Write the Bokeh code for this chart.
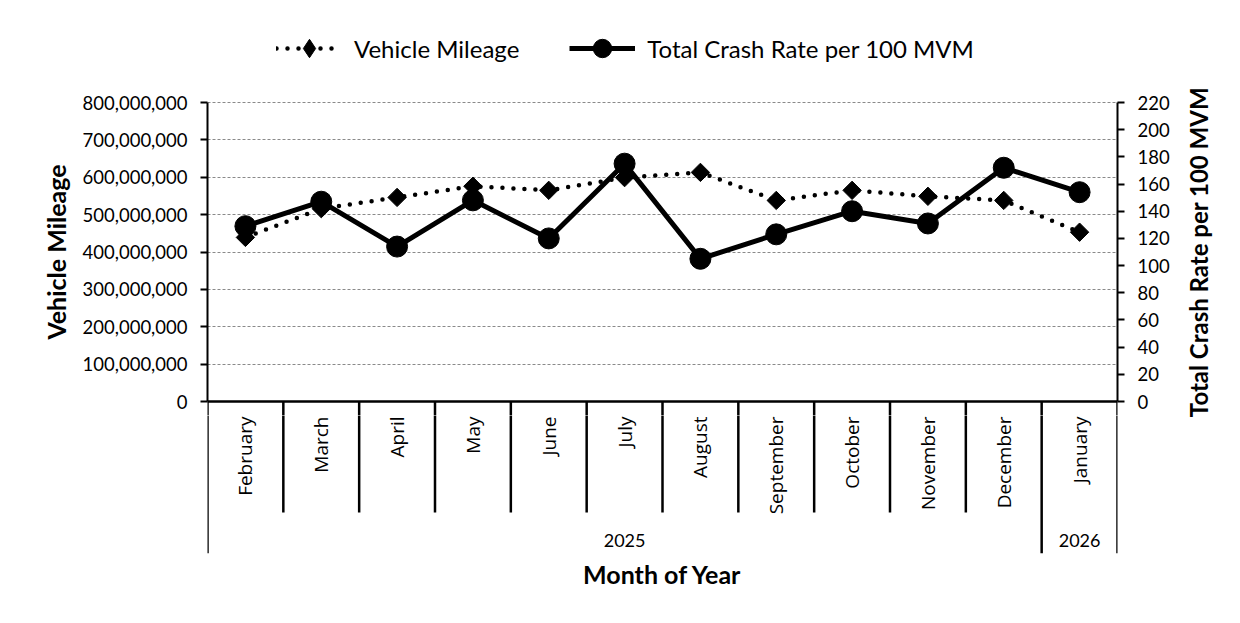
import math
from bokeh.plotting import figure
from bokeh.layouts import column, row
from bokeh.models import (Range1d, LinearAxis, FixedTicker, NumeralTickFormatter,
                          Legend, LegendItem, FactorRange, Title)
from bokeh.core.properties import value
from bokeh.embed import file_html
from bokeh.resources import INLINE

# ---------------- data ----------------
months = ["February", "March", "April", "May", "June", "July", "August",
          "September", "October", "November", "December", "January"]
years = ["2025"] * 11 + ["2026"]
vehicle_mileage = [439e6, 516e6, 546e6, 576e6, 565e6, 599e6, 613e6,
                   538e6, 565e6, 549e6, 538e6, 453e6]
crash_rate = [129, 147, 114, 148, 120, 175, 105, 123, 140, 131, 172, 154]
left_ticks = [0, 100e6, 200e6, 300e6, 400e6, 500e6, 600e6, 700e6, 800e6]
right_ticks = [0, 20, 40, 60, 80, 100, 120, 140, 160, 180, 200, 220]
LEFT_MAX, RIGHT_MAX = 800e6, 220

# ---------------- layout (page pixels) ----------------
W, H = 1240, 623
SIDE_W = 60                         # strip that carries the right-hand axis title
CW = W - SIDE_W                     # width of the chart column
FRAME_L, FRAME_R = 207, 1117
PLOT_T, PLOT_B = 102, 401           # value area (0 .. max)
MAIN_T, MAIN_B = 88, 415            # main frame, symmetric around the value area
TABLE_B = 553
MONTH_ROW_B = 512
FONT = "Lato"

def lv(py):
    """page y -> left-axis data units"""
    return (PLOT_B - py) * LEFT_MAX / (PLOT_B - PLOT_T)

def rv(py):
    return (PLOT_B - py) * RIGHT_MAX / (PLOT_B - PLOT_T)

x_range = FactorRange(factors=months, range_padding=0)

MILE_LINE = dict(line_color="black", line_width=4.5, line_dash="0 11", line_cap="round")
RATE_LINE = dict(line_color="black", line_width=5)
MARK = dict(fill_color="black", line_color="black")

# ---------------- legend strip (top) ----------------
t = figure(width=CW, height=MAIN_T, x_range=x_range, y_range=Range1d(0, LEFT_MAX),
           output_backend="svg", toolbar_location=None,
           min_border_left=FRAME_L, min_border_right=CW - FRAME_R,
           min_border_top=0, min_border_bottom=0)
t.extra_y_ranges = {"rate": Range1d(0, RIGHT_MAX)}
t.outline_line_color = None
t.axis.visible = False
t.grid.visible = False
kl1 = t.line(months, vehicle_mileage, visible=False, **MILE_LINE)
ks1 = t.scatter(months, vehicle_mileage, marker="diamond", size=20, visible=False, **MARK)
kl2 = t.line(months, crash_rate, y_range_name="rate", visible=False, **RATE_LINE)
ks2 = t.scatter(months, crash_rate, y_range_name="rate", marker="circle", size=21,
                visible=False, **MARK)
legend = Legend(items=[LegendItem(label="Vehicle Mileage", renderers=[kl1, ks1]),
                       LegendItem(label="Total Crash Rate per 100 MVM", renderers=[kl2, ks2])],
                orientation="horizontal", location=(276 - FRAME_L, MAIN_T - 71),
                border_line_color=None, background_fill_alpha=0,
                padding=0, margin=0, spacing=50, label_standoff=12,
                glyph_width=66, glyph_height=46,
                label_text_font=FONT, label_text_font_size="24px", label_text_color="black")
t.add_layout(legend)

# ---------------- main chart ----------------
p = figure(width=CW, height=MAIN_B - MAIN_T, x_range=x_range,
           y_range=Range1d(lv(MAIN_B), lv(MAIN_T)),
           output_backend="svg", toolbar_location=None,
           min_border_left=FRAME_L, min_border_right=CW - FRAME_R,
           min_border_top=0, min_border_bottom=0)
p.extra_y_ranges = {"rate": Range1d(rv(MAIN_B), rv(MAIN_T))}
p.outline_line_color = None
p.xaxis.visible = False
p.xgrid.visible = False
p.ygrid.ticker = FixedTicker(ticks=left_ticks)
p.ygrid.grid_line_color = "#8a8a8a"
p.ygrid.grid_line_dash = "3 2"
p.ygrid.grid_line_width = 1

ya = p.yaxis[0]
ya.ticker = FixedTicker(ticks=left_ticks)
ya.formatter = NumeralTickFormatter(format="0,0")
ya.bounds = (0, LEFT_MAX)
ya.axis_label = "Vehicle Mileage"

ra = LinearAxis(y_range_name="rate", ticker=FixedTicker(ticks=right_ticks),
                bounds=(0, RIGHT_MAX))
p.add_layout(ra, "right")

for ax in (ya, ra):
    ax.axis_line_color = "black"
    ax.axis_line_width = 2
    ax.major_tick_line_color = "black"
    ax.major_tick_line_width = 2
    ax.major_tick_in = 0
    ax.major_tick_out = 7
    ax.minor_tick_line_color = None
    ax.major_label_text_font = FONT
    ax.major_label_text_font_size = "18.5px"
    ax.major_label_text_color = "black"
    ax.major_label_standoff = 13
ya.axis_label_text_font = FONT
ya.axis_label_text_font_style = "bold"
ya.axis_label_text_color = "black"
ya.axis_label_text_font_size = "25px"
ya.axis_label_standoff = 9

p.line(months, vehicle_mileage, **MILE_LINE)
p.scatter(months, vehicle_mileage, marker="square", size=13, angle=math.pi / 4, **MARK)
p.line(months, crash_rate, y_range_name="rate", **RATE_LINE)
p.scatter(months, crash_rate, y_range_name="rate", marker="circle", size=21, **MARK)

# ---------------- category table ----------------
q = figure(width=CW, height=H - MAIN_B, x_range=x_range,
           y_range=Range1d(lv(TABLE_B), lv(MAIN_B)),
           output_backend="svg", toolbar_location=None,
           min_border_left=FRAME_L, min_border_right=CW - FRAME_R,
           min_border_top=0, min_border_bottom=H - TABLE_B)
q.outline_line_color = None
q.grid.visible = False
q.xaxis.visible = False
q.yaxis.visible = False

# category axis line
p.segment(x0=[(months[0], -0.5)], x1=[(months[-1], 0.5)], y0=[0], y1=[0],
          line_color="black", line_width=2.5)

sx, sy0 = [(months[0], -0.5)], [lv(TABLE_B)]
for i in range(len(months) - 1):
    sx.append((months[i], 0.5))
    sy0.append(lv(TABLE_B) if years[i] != years[i + 1] else lv(MONTH_ROW_B))
sx.append((months[-1], 0.5)); sy0.append(lv(TABLE_B))
for fig in (p, q):
    fig.segment(x0=sx, x1=sx, y0=sy0, y1=[0] * len(sx), line_color="black", line_width=2.5)

q.text(x=months, y=[lv(416)] * len(months), text=months, angle=math.pi / 2,
       text_align="right", text_baseline="middle", text_font=value("Open Sans"),
       text_font_size="19px", text_color="black")

groups = []
for i, yr in enumerate(years):
    if groups and groups[-1][0] == yr:
        groups[-1][2] = i
    else:
        groups.append([yr, i, i])
gx, gt = [], []
for yr, a, b in groups:
    mid = (a + b) / 2.0
    k = int(math.floor(mid))
    gx.append((months[k], mid - k))
    gt.append(yr)
q.text(x=gx, y=[lv(540)] * len(gx), text=gt, text_align="center",
       text_baseline="middle", text_font=value(FONT), text_font_size="18px", text_color="black")

q.add_layout(Title(text="Month of Year", align="center", text_font=FONT,
                   text_font_size="25px", text_font_style="bold", text_color="black",
                   standoff=6), "below")

# ---------------- right-hand axis title (reads bottom-to-top) ----------------
r = figure(width=SIDE_W, height=H, x_range=Range1d(0, 1),
           y_range=Range1d(rv(MAIN_B), rv(MAIN_T)),
           output_backend="svg", toolbar_location=None,
           min_border_left=34, min_border_right=0,
           min_border_top=MAIN_T, min_border_bottom=H - MAIN_B)
r.outline_line_color = None
r.grid.visible = False
r.xaxis.visible = False
rt = r.yaxis[0]
rt.ticker = FixedTicker(ticks=[])
rt.axis_line_color = None
rt.major_tick_line_color = None
rt.minor_tick_line_color = None
rt.axis_label = "Total Crash Rate per 100 MVM"
rt.axis_label_text_font = FONT
rt.axis_label_text_font_style = "bold"
rt.axis_label_text_font_size = "24px"
rt.axis_label_text_color = "black"
rt.axis_label_standoff = 2

layout = row(column(t, p, q, spacing=0), r, spacing=0)
open("out.html", "w").write(file_html(layout, INLINE))
